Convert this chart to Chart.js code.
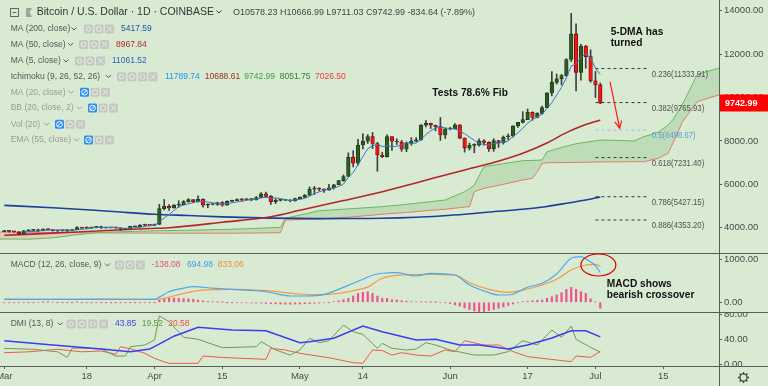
<!DOCTYPE html>
<html>
<head>
<meta charset="utf-8">
<script src="https://cdn.jsdelivr.net/npm/chart.js@4.4.1/dist/chart.umd.min.js"></script>
<style>
html,body{margin:0;padding:0;background:#d9ead3;overflow:hidden;}
#wrap{position:relative;width:768px;height:386px;background:#d9ead3;}
#wrap canvas{position:absolute;left:0;display:block;}
</style>
</head>
<body>
<div id="wrap">
<canvas id="cPrice" width="768" height="253" style="top:0px"></canvas>
<canvas id="cMacd" width="768" height="59" style="top:253px"></canvas>
<canvas id="cDmi" width="768" height="74" style="top:312px"></canvas>
</div>
<script>
// ================= DATA (day index: 0 = 1 Mar 2019) =================
const tickDays   = [0, 17, 31, 45, 61, 74, 92, 108, 122, 136];
const tickLabels = ['Mar', '18', 'Apr', '15', 'May', '14', 'Jun', '17', 'Jul', '15'];

const opens = [3820,3828,3834,3806,3717,3860,3873,3882,3860,3925,3913,3860,3876,3862,3869,3905,4007,3980,3983,4020,4048,3990,3998,4004,3990,3930,3940,4060,4045,4125,4120,
4110,4150,4880,4980,4910,5040,5060,5200,5290,5200,5320,5040,5080,5070,5160,5040,5210,5240,5290,5280,5330,5290,5390,5560,5440,5200,5260,5270,5280,5240,
5340,5400,5500,5780,5820,5770,5730,5840,5980,6170,6360,7240,6970,7810,7990,8200,7880,7350,7270,8200,7990,7950,7620,7880,7990,8050,8730,8810,8720,8660,8270,
8550,8560,8740,8130,7670,7790,7800,8000,7930,7630,8020,7920,8180,8230,8690,8850,8980,9320,9080,9270,9530,10210,10700,10860,11010,11750,12930,11160,12370,11880,
10770,10578.23];
const highs = [3880,3850,3847,3825,3880,3905,3907,3940,3950,3930,3915,3890,3880,3900,3925,4050,4010,4040,4030,4060,4070,4010,4015,4010,3995,3950,4070,4070,4140,4160,4125,
4170,5080,5300,5060,5060,5240,5250,5340,5290,5470,5330,5100,5120,5180,5200,5240,5270,5330,5340,5350,5340,5440,5620,5640,5480,5340,5300,5300,5290,5360,
5420,5530,5880,5900,5840,5790,6000,6000,6180,6430,7450,7550,8070,8330,8290,8390,7930,7480,8280,8200,8100,8020,7950,8150,8150,8750,8940,8820,8730,9080,8580,
8630,8800,8750,8140,7900,7870,8100,8060,7960,8100,8020,8230,8320,8690,8860,9350,9470,9340,9300,9600,10220,11200,11080,11070,11790,13880,13400,12450,12400,12200,
11200,10666.99];
const lows = [3810,3790,3780,3690,3705,3830,3860,3810,3855,3880,3840,3815,3840,3815,3860,3905,3960,3950,3975,3990,3960,3980,3985,3970,3880,3910,3935,4030,4040,4080,4100,
4100,4150,4820,4800,4900,4940,5060,5170,5150,5180,4950,4920,5050,5030,4990,5040,5200,5240,5240,5270,5240,5270,5380,5410,5070,5110,5230,5240,5190,5220,
5330,5390,5480,5530,5700,5620,5730,5780,5980,6140,6360,6800,6880,7630,7880,7650,6600,7230,7250,7560,7830,7520,7500,7800,7960,8030,8640,8570,8460,8020,8110,
8510,8550,8100,7480,7580,7450,7760,7800,7520,7520,7700,7850,8050,8170,8620,8820,8980,8950,9060,9230,9530,10070,10620,10580,10980,11650,10300,10800,11350,10700,
10000,9711.03];
const closes = [3828,3834,3806,3717,3860,3873,3882,3860,3925,3913,3860,3876,3862,3869,3905,4007,3980,3983,4020,4048,3990,3998,4004,3990,3930,3940,4060,4045,4125,4120,4110,
4150,4880,4980,4910,5040,5060,5200,5290,5200,5320,5040,5080,5070,5160,5040,5210,5240,5290,5280,5330,5290,5390,5560,5440,5200,5260,5270,5280,5240,5340,
5400,5500,5780,5820,5770,5730,5840,5980,6170,6360,7240,6970,7810,7990,8200,7880,7350,7270,8200,7990,7950,7620,7880,7990,8050,8730,8810,8720,8660,8270,8550,
8560,8740,8130,7670,7790,7800,8000,7930,7630,8020,7920,8180,8230,8690,8850,8980,9320,9080,9270,9530,10210,10700,10860,11010,11750,12930,11160,12370,11880,10770,
10580,9742.99];

const ma5Start = 4;
const ma5Vals = [3809,3818,3828,3838,3880,3891,3888,3887,3887,3876,3874,3904,3925,3949,3979,4008,4004,4008,4012,4006,3982,3972,3985,3993,4020,4058,4092,
4110,4277,4448,4606,4792,4974,5038,5100,5158,5214,5210,5186,5142,5134,5078,5112,5144,5188,5212,5270,5286,5316,5370,5402,5376,5370,5346,5290,5250,5278,
5306,5352,5452,5568,5654,5720,5788,5828,5898,6016,6318,6544,6910,7274,7642,7770,7846,7738,7780,7738,7752,7806,7928,7886,7898,8054,8292,8460,8594,8638,8602,
8552,8556,8450,8330,8178,8026,7878,7838,7830,7876,7900,7936,7996,8208,8374,8586,8814,8984,9100,9236,9482,9758,10114,10462,10906,11450,11542,11844,12018,11822,
11352,11061.52];

const ma50Days = [0,10,20,30,34,45,55,61,70,78,86,95,101,107,112,116,120,123];
const ma50Vals = [3650,3750,3860,3960,4000,4250,4507,4800,5250,5659,6130,6659,7000,7429,7900,8380,8750,8967.84];

const ma200Days = [0,10,17,24,31,38,45,55,65,72,78,85,90,95,100,107,112,116,120,123];
const ma200Vals = [5030,4920,4830,4720,4620,4560,4500,4440,4420,4425,4433,4480,4540,4617,4720,4848,4980,5124,5280,5417.59];

const cloudDays = [-1,5,10,14,20,30,40,50,57,58,65,72,78,83,88,91,95,96,97,99,103,107,109,110,111,112,115,118,123,127,130,132,135,137,138,140,143,145,148];
const spanA = [3480,3470,3530,3650,3790,3850,3890,3950,4018,4433,4783,4880,4970,5078,5200,5276,5659,5800,5968,6811,6950,7088,7100,7110,7120,7502,7700,7870,8041,8020,7995,8194,8400,8733,8980,9700,11050,11200,11380];
const spanB = [3800,3790,3780,3770,3760,3750,3742,3750,3770,4355,4400,4500,4620,4700,4800,4850,4950,4968,5659,5816,6000,6200,6276,6581,6968,6990,7000,7010,7030,7035,7040,7041,7200,7429,7900,8900,9800,9950,10150];

const fibLevels = [11333.91, 9765.93, 8498.67, 7231.40, 5427.15, 4353.20];
const fibLabels = ['0.236(11333.91)', '0.382(9765.93)', '0.5(8498.67)', '0.618(7231.40)', '0.786(5427.15)', '0.886(4353.20)'];
const fibSpan = [122, 133];
const priceTicks = [4000, 6000, 8000, 10000, 12000, 14000];

const macdDays = [0,10,20,31,32,34,37,39,43,47,54,59,61,65,69,72,74,76,78,81,85,88,93,96,99,102,104,108,111,114,117,119,120,122,123];
const macdVals = [70,68,72,70,120,246,330,363,330,302,246,147,147,160,302,442,535,630,675,688,612,674,635,402,263,170,170,349,442,658,1023,1060,1010,850,694.98];
const signalDays = [0,10,20,31,33,36,40,43,47,54,61,65,69,72,75,78,82,88,93,96,100,104,108,111,114,117,120,122,123];
const signalVals = [72,70,70,68,90,180,270,295,302,270,193,180,209,270,354,560,635,651,635,456,302,233,309,402,535,751,867,884,833.06];
const histVals = [-8,-8,-8,-10,-8,-5,-3,0,2,2,0,-2,-2,-3,-2,2,-4,-6,-5,-6,-4,-3,-2,-2,-5,-6,-2,-1,-6,-8,-7,-4,
50,90,107,100,95,85,80,70,50,35,20,10,5,2,-2,-5,-8,-10,-12,-15,-18,-20,-25,-30,-35,-40,-45,-45,-40,-40,-35,-30,-25,-20,-12,-5,
14,35,60,93,146,209,233,246,209,146,93,93,60,53,37,25,14,10,8,5,3,2,0,-10,-30,
-60,-90,-130,-170,-200,-217,-215,-195,-170,-140,-110,-75,-40,-10,15,25,35,45,53,93,130,170,225,302,349,302,246,209,80,10,-138.08];
const macdTicks = [0, 1000];

const adxDays = [0,10,20,26,30,31,35,40,47,54,61,63,68,74,78,85,89,94,98,104,108,113,117,120,123];
const adxVals = [37.8,31,24.5,20.2,24.5,28.2,45,59.2,54.9,53.8,34.6,36.2,41.6,61.3,52.2,38.9,40,30.9,30.9,24.5,30.9,42,53.8,53.8,43.85];
const pdiDays = [0,6,11,13,14,16,20,23,25,26,29,31,32,34,37,40,45,52,53,56,59,61,63,65,67,70,72,74,77,78,80,83,85,87,89,92,97,101,104,107,110,113,115,117,118,121,123];
const pdiVals = [25.6,24,20,11.2,25.6,26,24.5,13.3,13.3,28.2,30.9,38.9,77.3,68.2,43.2,40,26.6,28.2,36.2,22.9,14.9,22.9,41.6,34.6,37.8,62.9,52.2,48,25.6,33.6,25.6,22.9,24.5,34.6,30.9,22.9,14.9,14.9,20.3,37.8,30.9,54.9,43.2,61.3,40,27.2,19.52];
const mdiDays = [0,5,11,16,20,23,24,26,29,31,33,34,40,41,45,49,54,55,58,61,67,72,74,76,78,80,82,85,88,91,93,95,99,102,105,108,114,117,118,121,123];
const mdiVals = [18.6,20,24,20,21.3,16,28,25,17.6,9.6,4,1.6,1.6,13.3,11,9.6,8,25.6,22.9,17.6,10.6,2.6,1.6,22.9,22,14.9,18.6,14.9,13.3,22.9,20.3,37.8,30.9,30.9,20.3,12.3,6.9,4.3,13.3,11.2,20.58];
const dmiTicks = [0, 40, 80];

// ================= STYLE / LAYOUT =================
const F = "'Liberation Sans', Arial, sans-serif";
Chart.defaults.font.family = F;
Chart.defaults.color = '#4a4a4a';
const X_MIN = -0.89, X_MAX = 147.5;
const UP = '#2c5b22', UPB = '#1c3a14', DN = '#ff1010', DNB = '#5a1515', WICK = '#3f3f3f';
const N = closes.length;
const dayIdx = closes.map((_, i) => i);
function pts(ds, vs) { return ds.map((d, i) => ({ x: d, y: vs[i] })); }

function txt(ctx, s, x, y, font, color, sx, align) {
  ctx.save();
  ctx.font = font; ctx.fillStyle = color; ctx.textBaseline = 'middle'; ctx.textAlign = align || 'left';
  ctx.translate(x, y); ctx.scale(sx || 1, 1); ctx.fillText(s, 0, 0);
  ctx.restore();
}
function chevron(ctx, x, y, col) {
  ctx.save(); ctx.strokeStyle = col; ctx.lineWidth = 1;
  ctx.beginPath(); ctx.moveTo(x, y - 1.5); ctx.lineTo(x + 2.5, y + 1); ctx.lineTo(x + 5, y - 1.5); ctx.stroke();
  ctx.restore();
}
function rr(ctx, x, y, w, h, r) { ctx.beginPath(); if (ctx.roundRect) ctx.roundRect(x, y, w, h, r); else ctx.rect(x, y, w, h); }
function icon(ctx, x, y, type, blue) {
  ctx.save();
  ctx.fillStyle = blue ? '#2b8ef0' : '#c3c8c1';
  rr(ctx, x, y - 4.5, 9, 9, 1.5); ctx.fill();
  ctx.strokeStyle = blue ? '#ffffff' : '#eceee9'; ctx.lineWidth = 1;
  const cx = x + 4.5, cy = y;
  ctx.beginPath();
  if (blue) { ctx.arc(cx, cy, 2.8, 0, Math.PI * 2); ctx.moveTo(cx - 2.4, cy + 2.4); ctx.lineTo(cx + 2.4, cy - 2.4); }
  else if (type === 'eye') { ctx.arc(cx, cy, 2.2, 0, Math.PI * 2); }
  else if (type === 'gear') { ctx.arc(cx, cy, 2.5, 0, Math.PI * 2); }
  else if (type === 'src') { ctx.moveTo(cx - 1, cy - 3); ctx.lineTo(cx - 2.5, cy); ctx.lineTo(cx - 1, cy + 3); ctx.moveTo(cx + 1, cy - 3); ctx.lineTo(cx + 2.5, cy); ctx.lineTo(cx + 1, cy + 3); }
  else { ctx.moveTo(cx - 2.5, cy - 2.5); ctx.lineTo(cx + 2.5, cy + 2.5); ctx.moveTo(cx + 2.5, cy - 2.5); ctx.lineTo(cx - 2.5, cy + 2.5); }
  ctx.stroke();
  ctx.restore();
}
function legendRow(ctx, r) {
  txt(ctx, r.name, 10.7, r.y, '8.5px ' + F, r.color);
  chevron(ctx, r.chev, r.y, r.color);
  r.icons.forEach((t, i) => icon(ctx, r.ix[i], r.y, t, r.blue && i === 0));
  (r.vals || []).forEach(v => txt(ctx, v[0], v[1], r.y, '8.5px ' + F, v[2]));
}
const I3 = ['eye', 'gear', 'x'], I4 = ['eye', 'gear', 'src', 'x'];
const priceLegend = [
  { y: 29, name: 'MA (200, close)', color: '#555', chev: 71.5, icons: I3, ix: [84, 94.5, 105], vals: [['5417.59', 121, '#2356a8']] },
  { y: 44.5, name: 'MA (50, close)', color: '#555', chev: 68, icons: I3, ix: [79, 89.5, 100], vals: [['8967.84', 116, '#b2282e']] },
  { y: 61, name: 'MA (5, close)', color: '#555', chev: 63.5, icons: I3, ix: [75, 85.5, 96], vals: [['11061.52', 112, '#2f5fb8']] },
  { y: 76.7, name: 'Ichimoku (9, 26, 52, 26)', color: '#555', chev: 106, icons: I4, ix: [117, 127.5, 138, 148.5],
    vals: [['11789.74', 165, '#2196f3'], ['10688.61', 204.7, '#9c2a2a'], ['9742.99', 244.3, '#43a047'], ['8051.75', 279.7, '#2e7d32'], ['7026.50', 315, '#f23645']] },
  { y: 92.3, name: 'MA (20, close)', color: '#9a9a9a', chev: 68.5, icons: I3, ix: [80, 90.5, 101], blue: true },
  { y: 108, name: 'BB (20, close, 2)', color: '#9a9a9a', chev: 77, icons: I3, ix: [88, 98.5, 109], blue: true },
  { y: 124.3, name: 'Vol (20)', color: '#9a9a9a', chev: 44.3, icons: I3, ix: [55, 65.5, 76], blue: true },
  { y: 140, name: 'EMA (55, close)', color: '#9a9a9a', chev: 74, icons: I3, ix: [84, 94.5, 105], blue: true }
];

const frame = {
  id: 'frame',
  afterDraw(chart, args, opts) {
    const ctx = chart.ctx;
    ctx.save(); ctx.strokeStyle = '#5c5c5c'; ctx.lineWidth = 1;
    ctx.beginPath();
    ctx.moveTo(719.5, 0); ctx.lineTo(719.5, chart.height);
    if (opts.top) { ctx.moveTo(0, 0.5); ctx.lineTo(768, 0.5); }
    if (opts.bottom) { const b = Math.round(chart.chartArea.bottom) + 0.5; ctx.moveTo(0, b); ctx.lineTo(768, b); }
    ctx.stroke(); ctx.restore();
  }
};

const priceDeco = {
  id: 'priceDeco',
  afterDraw(chart) {
    const ctx = chart.ctx, xs = chart.scales.x, ys = chart.scales.y;
    fibLevels.forEach((lv, i) => {
      txt(ctx, fibLabels[i], xs.getPixelForValue(fibSpan[1]) + 3, ys.getPixelForValue(lv) + 5.5, '9px ' + F, i === 2 ? '#5b9bd5' : '#505050', 0.86);
    });
    const B = 'bold 11.5px ' + F;
    txt(ctx, 'Tests 78.6% Fib', 432.3, 92.5, B, '#111', 0.885);
    txt(ctx, '5-DMA has', 610.7, 32, B, '#111', 0.885);
    txt(ctx, 'turned', 610.7, 42.5, B, '#111', 0.885);
    const x1 = xs.getPixelForValue(125), y1 = ys.getPixelForValue(10730);
    const x2 = xs.getPixelForValue(127), y2 = ys.getPixelForValue(8580);
    const ang = Math.atan2(y2 - y1, x2 - x1);
    ctx.save(); ctx.strokeStyle = '#ff1a1a'; ctx.lineWidth = 1.2;
    ctx.beginPath(); ctx.moveTo(x1, y1); ctx.lineTo(x2, y2);
    ctx.moveTo(x2 - 8 * Math.cos(ang - 0.45), y2 - 8 * Math.sin(ang - 0.45)); ctx.lineTo(x2, y2);
    ctx.lineTo(x2 - 8 * Math.cos(ang + 0.45), y2 - 8 * Math.sin(ang + 0.45));
    ctx.stroke(); ctx.restore();
    ctx.save(); ctx.strokeStyle = '#666'; ctx.lineWidth = 1;
    ctx.strokeRect(10.5, 8.5, 8, 8);
    ctx.beginPath(); ctx.moveTo(12.5, 12.5); ctx.lineTo(16.5, 12.5); ctx.stroke();
    ctx.fillStyle = '#a0a4a0';
    ctx.beginPath(); ctx.moveTo(26, 8); ctx.lineTo(32, 8); ctx.lineTo(29.5, 12.5); ctx.lineTo(32, 17); ctx.lineTo(26, 17); ctx.closePath(); ctx.fill();
    ctx.restore();
    txt(ctx, 'Bitcoin / U.S. Dollar · 1D · COINBASE', 36.7, 12.5, '10.5px ' + F, '#333');
    chevron(ctx, 216.5, 12, '#444');
    txt(ctx, 'O10578.23 H10666.99 L9711.03 C9742.99 -834.64 (-7.89%)', 233, 13, '9px ' + F, '#444');
    priceLegend.forEach(r => legendRow(ctx, r));
    const last = closes[N - 1];
    const py = ys.getPixelForValue(last);
    ctx.fillStyle = '#ff0000'; ctx.fillRect(720, Math.round(py) - 8.5, 48, 17);
    txt(ctx, last.toFixed(2), 725, py, 'bold 9px ' + F, '#ffffff');
  }
};

const macdDeco = {
  id: 'macdDeco',
  afterDraw(chart) {
    const ctx = chart.ctx, xs = chart.scales.x, ys = chart.scales.y;
    legendRow(ctx, { y: 12, name: 'MACD (12, 26, close, 9)', color: '#555', chev: 105, icons: I3, ix: [115, 125.5, 136],
      vals: [['-138.08', 151.7, '#ec4a85'], ['694.98', 187, '#3da0ea'], ['833.06', 217.7, '#f08a30']] });
    const B = 'bold 11.5px ' + F;
    txt(ctx, 'MACD shows', 606.7, 31.3, B, '#111', 0.885);
    txt(ctx, 'bearish crossover', 606.7, 41.5, B, '#111', 0.885);
    ctx.save(); ctx.strokeStyle = '#e00000'; ctx.lineWidth = 1.2;
    ctx.beginPath(); ctx.ellipse(xs.getPixelForValue(122.6), ys.getPixelForValue(867), 17.5, 11, 0, 0, Math.PI * 2); ctx.stroke();
    ctx.restore();
  }
};

const dmiDeco = {
  id: 'dmiDeco',
  afterDraw(chart) {
    const ctx = chart.ctx;
    legendRow(ctx, { y: 12, name: 'DMI (13, 8)', color: '#555', chev: 57.7, icons: I4, ix: [66.7, 77.5, 88.3, 99],
      vals: [['43.85', 115, '#3c3cf0'], ['19.52', 141.7, '#5f9a48'], ['20.58', 168.3, '#f05050']] });
    const cx = 743.5, cy = 65.5;
    ctx.save(); ctx.strokeStyle = '#444'; ctx.lineWidth = 1.3;
    ctx.beginPath(); ctx.arc(cx, cy, 3.6, 0, Math.PI * 2); ctx.stroke();
    ctx.beginPath();
    for (let k = 0; k < 8; k++) { const a = k * Math.PI / 4; ctx.moveTo(cx + 3.6 * Math.cos(a), cy + 3.6 * Math.sin(a)); ctx.lineTo(cx + 5.6 * Math.cos(a), cy + 5.6 * Math.sin(a)); }
    ctx.stroke(); ctx.restore();
  }
};

function yAxis(min, max, ticks) {
  return {
    type: 'linear', position: 'right', min: min, max: max,
    afterBuildTicks: s => { s.ticks = ticks.map(v => ({ value: v })); },
    afterFit: s => { s.width = 49; s.paddingTop = 0; s.paddingBottom = 0; },
    ticks: { callback: v => Number(v).toFixed(2), font: { size: 9.5 }, color: '#4a4a4a', padding: 2 },
    grid: { drawOnChartArea: false, tickLength: 3, color: '#5c5c5c' },
    border: { display: false }
  };
}
function baseOpts(xAxisCfg, yCfg, frameOpts) {
  return {
    responsive: false, animation: false, events: [],
    layout: { padding: 0 },
    plugins: { legend: { display: false }, tooltip: { enabled: false }, frame: frameOpts },
    scales: { x: xAxisCfg, y: yCfg }
  };
}
const hiddenX = { type: 'linear', min: X_MIN, max: X_MAX, display: false, offset: false };

// ================= PRICE PANEL =================
new Chart(document.getElementById('cPrice'), {
  type: 'line',
  data: {
    datasets: [
      ...fibLevels.map((lv, i) => ({ type: 'line', data: [{ x: fibSpan[0], y: lv }, { x: fibSpan[1], y: lv }],
        borderColor: i === 2 ? '#9cc2e8' : '#3a3a3a', borderWidth: 1, borderDash: [3, 3], pointRadius: 0, order: 0 })),
      { type: 'line', data: ma5Vals.map((v, i) => ({ x: i + ma5Start, y: v })), borderColor: '#3d74c6', borderWidth: 1, pointRadius: 0, order: 1 },
      { type: 'bar', data: dayIdx.map(i => ({ x: i, y: [opens[i], closes[i]] })),
        backgroundColor: dayIdx.map(i => closes[i] >= opens[i] ? UP : DN),
        borderColor: dayIdx.map(i => closes[i] >= opens[i] ? UPB : DNB),
        borderWidth: 0.8, borderSkipped: false, barThickness: 3.6, minBarLength: 1, grouped: false, order: 2 },
      { type: 'bar', data: dayIdx.map(i => ({ x: i, y: [lows[i], highs[i]] })), backgroundColor: WICK, barThickness: 1, grouped: false, order: 3 },
      { type: 'line', data: pts(ma50Days, ma50Vals), borderColor: '#b3252b', borderWidth: 1.6, pointRadius: 0, cubicInterpolationMode: 'monotone', order: 4 },
      { type: 'line', data: pts(ma200Days, ma200Vals), borderColor: '#1c3f9c', borderWidth: 1.6, pointRadius: 0, cubicInterpolationMode: 'monotone', order: 5 },
      { type: 'line', data: pts(cloudDays, spanA), borderColor: '#68b85c', borderWidth: 1, pointRadius: 0,
        fill: { target: '+1', above: 'rgba(95,175,85,0.22)', below: 'rgba(240,110,100,0.22)' }, order: 6 },
      { type: 'line', data: pts(cloudDays, spanB), borderColor: '#e8786c', borderWidth: 1, pointRadius: 0, order: 7 }
    ]
  },
  options: baseOpts(hiddenX, yAxis(2834, 14493, priceTicks), {}),
  plugins: [frame, priceDeco]
});

// ================= MACD PANEL =================
new Chart(document.getElementById('cMacd'), {
  type: 'line',
  data: {
    datasets: [
      { type: 'line', data: pts(macdDays, macdVals), borderColor: '#4aa8ee', borderWidth: 1.2, pointRadius: 0, cubicInterpolationMode: 'monotone', order: 0 },
      { type: 'line', data: pts(signalDays, signalVals), borderColor: '#f39a45', borderWidth: 1.2, pointRadius: 0, cubicInterpolationMode: 'monotone', order: 1 },
      { type: 'bar', data: histVals.map((v, i) => ({ x: i, y: v })), backgroundColor: '#f0528e', barThickness: 1.5, order: 2 }
    ]
  },
  options: baseOpts(hiddenX, yAxis(-225.6, 1146.5, macdTicks), { top: true }),
  plugins: [frame, macdDeco]
});

// ================= DMI PANEL =================
new Chart(document.getElementById('cDmi'), {
  type: 'line',
  data: {
    datasets: [
      { type: 'line', data: pts(adxDays, adxVals), borderColor: '#3c3cf0', borderWidth: 1.5, pointRadius: 0, order: 0 },
      { type: 'line', data: pts(pdiDays, pdiVals), borderColor: '#6f9a55', borderWidth: 1, pointRadius: 0, order: 1 },
      { type: 'line', data: pts(mdiDays, mdiVals), borderColor: '#f0584e', borderWidth: 1, pointRadius: 0, order: 2 }
    ]
  },
  options: baseOpts({
    type: 'linear', min: X_MIN, max: X_MAX, position: 'bottom', offset: false,
    afterBuildTicks: s => { s.ticks = tickDays.map(v => ({ value: v })); },
    afterFit: s => { s.height = 20; s.paddingLeft = 0; s.paddingRight = 0; },
    ticks: { autoSkip: false, maxRotation: 0, callback: (v, i) => tickLabels[i], font: { size: 9.5 }, color: '#4a4a4a', padding: 2 },
    grid: { drawOnChartArea: false, tickLength: 3, color: '#5c5c5c' },
    border: { display: false }
  }, yAxis(-2.7, 83.7, dmiTicks), { top: true, bottom: true }),
  plugins: [frame, dmiDeco]
});
</script>
</body>
</html>
